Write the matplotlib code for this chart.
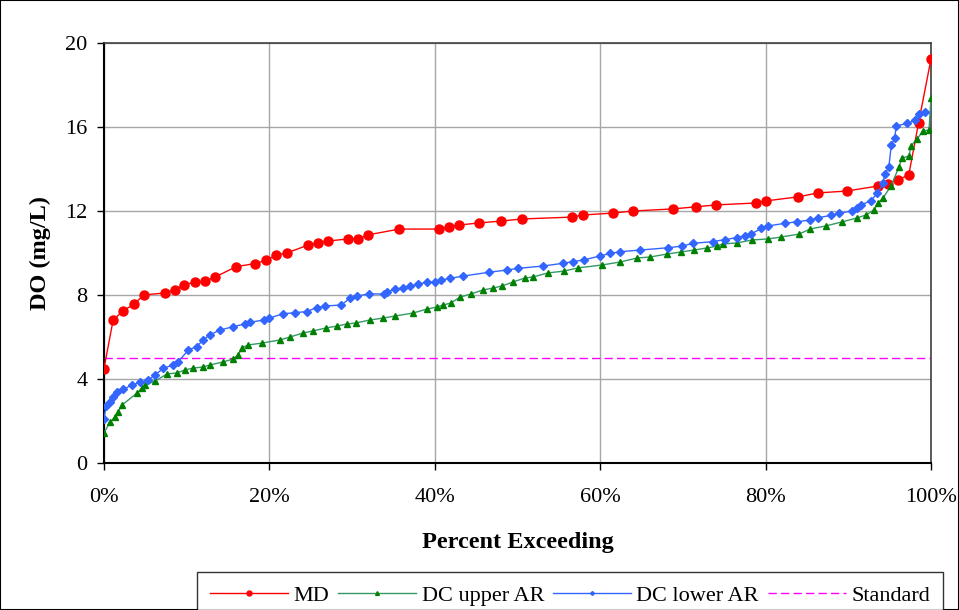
import matplotlib
matplotlib.use("Agg")
import matplotlib.pyplot as plt
from matplotlib.patches import Rectangle
from matplotlib.ticker import FuncFormatter

plt.rcParams['font.family'] = ['Liberation Serif', 'DejaVu Serif']

md_x = [0, 1.1, 2.3, 3.6, 4.8, 7.4, 8.6, 9.7, 11.0, 12.2, 13.4, 16.0, 18.3, 19.6, 20.8,
        22.1, 24.7, 25.9, 27.1, 29.5, 30.7, 31.9, 35.7, 40.5, 41.7, 42.9, 45.3, 48.0, 50.5,
        56.6, 57.9, 61.5, 64.0, 68.8, 71.6, 74.0, 78.8, 80.0, 83.9, 86.3, 89.8, 93.6, 94.8,
        96.0, 97.3, 98.5, 100.0]
md_y = [4.5, 6.8, 7.25, 7.55, 8.0, 8.1, 8.25, 8.5, 8.6, 8.65, 8.85, 9.35, 9.5, 9.65, 9.9,
        10.0, 10.38, 10.48, 10.57, 10.67, 10.67, 10.86, 11.14, 11.14, 11.24, 11.33, 11.43,
        11.52, 11.62, 11.71, 11.81, 11.9, 12.0, 12.1, 12.2, 12.29, 12.38, 12.48, 12.67,
        12.86, 12.95, 13.19, 13.29, 13.5, 13.7, 16.2, 19.24]

up_x = [0.0, 0.73, 1.33, 1.69, 2.18, 3.99, 4.59, 4.96, 6.17, 7.62, 8.83, 9.79, 10.76, 11.97,
        12.82, 14.39, 15.60, 16.20, 16.69, 17.41, 19.11, 21.28, 22.49, 24.06, 25.27, 26.84,
        28.17, 29.38, 30.47, 32.16, 33.74, 35.19, 37.36, 39.06, 40.27, 40.99, 41.96, 43.05,
        44.38, 45.83, 47.04, 48.13, 49.46, 50.91, 51.87, 53.69, 55.62, 57.32, 60.22, 62.39,
        64.45, 66.02, 68.08, 69.77, 71.34, 72.91, 74.12, 74.85, 76.54, 78.36, 80.29, 81.86,
        84.04, 85.37, 87.30, 89.24, 91.05, 92.14, 93.11, 93.59, 94.20, 95.16, 96.13, 96.49,
        97.34, 97.58, 98.31, 99.03, 99.76, 100.0]
up_y = [1.43, 1.95, 2.19, 2.43, 2.76, 3.33, 3.57, 3.71, 3.90, 4.24, 4.29, 4.43, 4.52, 4.57,
        4.67, 4.81, 4.95, 5.14, 5.48, 5.62, 5.71, 5.86, 6.00, 6.19, 6.29, 6.43, 6.52, 6.62,
        6.67, 6.81, 6.90, 7.00, 7.14, 7.33, 7.43, 7.52, 7.62, 7.90, 8.05, 8.24, 8.33, 8.43,
        8.62, 8.81, 8.86, 9.05, 9.14, 9.29, 9.43, 9.57, 9.76, 9.81, 9.95, 10.05, 10.14, 10.24,
        10.33, 10.43, 10.48, 10.62, 10.67, 10.76, 10.90, 11.14, 11.29, 11.48, 11.67, 11.81,
        12.05, 12.38, 12.62, 13.19, 14.10, 14.52, 14.62, 15.10, 15.43, 15.81, 15.86, 17.38]

lo_x = [0.0, 0.24, 0.73, 1.13, 1.53, 2.34, 3.34, 4.35, 5.36, 6.17, 7.17, 8.38, 8.99, 10.2,
        11.2, 12.0, 12.8, 14.0, 15.6, 17.0, 17.65, 19.3, 19.9, 21.6, 23.1, 24.5, 25.7, 26.7,
        28.7, 29.7, 30.6, 32.0, 33.8, 34.2, 35.2, 36.2, 37.0, 38.0, 39.0, 40.0, 40.8, 41.8,
        43.4, 46.5, 48.7, 50.1, 53.1, 55.5, 56.7, 58.0, 60.0, 61.2, 62.4, 64.8, 68.2, 69.9,
        71.2, 73.6, 75.1, 76.5, 77.5, 78.2, 79.5, 80.3, 82.3, 83.8, 85.4, 86.3, 87.9, 88.9,
        90.4, 91.0, 91.5, 92.7, 93.5, 94.2, 94.4, 94.9, 95.2, 95.6, 95.8, 97.1, 98.1, 98.5,
        99.3]
lo_y = [2.08, 2.71, 2.92, 3.16, 3.40, 3.51, 3.71, 3.84, 3.95, 4.19, 4.51, 4.67, 4.83, 5.38,
        5.54, 5.86, 6.10, 6.33, 6.49, 6.62, 6.70, 6.81, 6.89, 7.10, 7.16, 7.21, 7.40, 7.48,
        7.52, 7.84, 7.95, 8.05, 8.05, 8.16, 8.27, 8.35, 8.43, 8.52, 8.60, 8.63, 8.71, 8.79,
        8.90, 9.08, 9.19, 9.27, 9.38, 9.51, 9.59, 9.67, 9.86, 9.98, 10.06, 10.14, 10.25, 10.33,
        10.46, 10.54, 10.64, 10.73, 10.83, 10.90, 11.17, 11.29, 11.41, 11.49, 11.57, 11.68,
        11.79, 11.89, 12.0, 12.13, 12.29, 12.48, 12.84, 13.32, 13.76, 14.08, 15.14, 15.46,
        16.05, 16.17, 16.33, 16.6, 16.73]

std_x = [0, 100]
std_y = [5, 5]

x_ticks = [0, 20, 40, 60, 80, 100]
y_ticks = [0, 4, 8, 12, 16, 20]

W, H = 959, 610
fig = plt.figure(figsize=(W / 100, H / 100), dpi=100)
ax = fig.add_axes([104 / W, 1 - 463 / H, (931 - 104) / W, (463 - 43) / H])

ax.plot(std_x, std_y, color='#FF00FF', lw=1.0, ls=(0, (6, 3)), label='Standard', zorder=2)
ax.plot(md_x, md_y, color='#FF0000', lw=1.0, marker='o', ms=6.5, mfc='#FF0000', mec='#FF0000',
        label='MD', zorder=3)
ax.plot(up_x, up_y, color='#339966', lw=1.0, marker='^', ms=5, mfc='#008000', mec='#008000',
        label='DC upper AR', zorder=3)
ax.plot(lo_x, lo_y, color='#3366FF', lw=1.0, marker='D', ms=3.6, mfc='#3366FF', mec='#3366FF',
        label='DC lower AR', zorder=4)

ax.set_xlim(0, 100)
ax.set_ylim(0, 20)
ax.set_xticks(x_ticks)
ax.set_yticks(y_ticks)
ax.xaxis.set_major_formatter(FuncFormatter(lambda v, p: f"{int(v)}%"))
ax.grid(True, color='#A6A6A6', lw=1.0)
ax.set_axisbelow(True)
ax.tick_params(axis='both', direction='out', length=5, width=1, labelsize=16, colors='black')
ax.tick_params(axis='x', pad=13)
ax.tick_params(axis='y', pad=7)
for s in ['left', 'bottom']:
    ax.spines[s].set_color('black')
    ax.spines[s].set_linewidth(1.5)
for s in ['top', 'right']:
    ax.spines[s].set_color('#404040')
    ax.spines[s].set_linewidth(1.2)

ax.set_xlabel('Percent Exceeding', fontsize=17.5, fontweight='bold', labelpad=18)
ax.set_ylabel('DO (mg/L)', fontsize=17.5, fontweight='bold', labelpad=10)

handles, labels = ax.get_legend_handles_labels()
order = [1, 2, 3, 0]
leg = fig.legend([handles[i] for i in order], [labels[i] for i in order],
                 loc='upper left', bbox_to_anchor=(197 / W, 1 - 572 / H), ncol=4,
                 fontsize=16, frameon=True, fancybox=False, edgecolor='black',
                 handlelength=3.5, columnspacing=0.4, handletextpad=0.25,
                 borderpad=0.6, borderaxespad=0, markerscale=0.55)
leg.get_frame().set_linewidth(1.0)

fig.patches.append(Rectangle((0, 0), 1, 1, transform=fig.transFigure, fill=False,
                             edgecolor='black', lw=1.5))

fig.savefig('out.png', dpi=100)
